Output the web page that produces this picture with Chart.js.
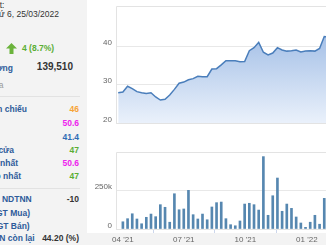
<!DOCTYPE html>
<html><head><meta charset="utf-8">
<script src="https://cdn.jsdelivr.net/npm/chart.js@4.4.1/dist/chart.umd.min.js"></script>
<style>
html,body{margin:0;padding:0;}
body{width:326px;height:245px;overflow:hidden;position:relative;background:#f3f3f3;font-family:"Liberation Sans",Arial,sans-serif;}
#white{position:absolute;left:87px;top:0;width:239px;height:233px;background:#fff;}
.t{position:absolute;white-space:nowrap;line-height:10px;font-size:8.5px;}
.l{font-weight:bold;color:#2e5b9a;}
.v{font-weight:bold;text-align:right;}
.sep{position:absolute;left:0;width:80px;height:1px;background:#e2e2e2;}
canvas{position:absolute;}
</style></head>
<body>
<div id="white"></div>
<div class="t" style="right:321.5px;top:0px;color:#333">Cập nhật:</div>
<div class="t" style="right:267px;top:9.3px;color:#333">Thứ 6, 25/03/2022</div>
<svg style="position:absolute;left:6px;top:42.5px" width="11" height="11" viewBox="0 0 11 11"><polygon points="5.5,0 11,5.5 7.5,5.5 7.5,11 3.5,11 3.5,5.5 0,5.5" fill="#6bb33c"/></svg>
<div class="t v" style="left:22px;top:43px;color:#5aae34">4 (8.7%)</div>
<div class="t l" style="right:313px;top:62.5px">Khối lượng</div>
<div class="t v" style="right:253px;top:60.8px;font-size:10px;line-height:12px;color:#333">139,510</div>
<div class="t" style="right:322.5px;top:80px;color:#999">Giá đóng cửa</div>
<div class="sep" style="top:96px"></div>
<div class="t l" style="right:299px;top:104.3px">Giá tham chiếu</div>
<div class="t v" style="right:247px;top:104.3px;color:#f7a336">46</div>
<div class="t l" style="right:333px;top:118.3px">Giá trần</div>
<div class="t v" style="right:247px;top:118.3px;color:#ee22ee">50.6</div>
<div class="t l" style="right:333px;top:132px">Giá sàn</div>
<div class="t v" style="right:247px;top:132px;color:#2e6cb5">41.4</div>
<div class="t l" style="right:312px;top:145px">Giá mở cửa</div>
<div class="t v" style="right:247px;top:145px;color:#5aae34">47</div>
<div class="t l" style="right:308px;top:157.7px">Giá cao nhất</div>
<div class="t v" style="right:247px;top:157.7px;color:#ee22ee">50.6</div>
<div class="t l" style="right:305px;top:171px">Giá thấp nhất</div>
<div class="t v" style="right:247px;top:171px;color:#5aae34">47</div>
<div class="sep" style="top:188px"></div>
<div class="t l" style="right:294.3px;top:194.3px">Mua bán ròng NDTNN</div>
<div class="t v" style="right:247px;top:194.3px;color:#333">-10</div>
<div class="t l" style="right:296px;top:207.7px">NN mua (GT Mua)</div>
<div class="t l" style="right:296.3px;top:220.5px">NN bán (GT Bán)</div>
<div class="t l" style="right:291.3px;top:233.3px">Room NĐTNN còn lại</div>
<div class="t v" style="right:247px;top:233.3px;color:#333">44.20 (%)</div>

<canvas id="pc" width="239" height="150" style="left:87px;top:0px"></canvas>
<canvas id="vc" width="239" height="105" style="left:87px;top:140px"></canvas>
<script>
const weeks = ['2021-03-25','2021-04-01','2021-04-08','2021-04-15','2021-04-22','2021-04-29','2021-05-06','2021-05-13','2021-05-20','2021-05-27','2021-06-03','2021-06-10','2021-06-17','2021-06-24','2021-07-01','2021-07-08','2021-07-15','2021-07-22','2021-07-29','2021-08-05','2021-08-12','2021-08-19','2021-08-26','2021-09-02','2021-09-09','2021-09-16','2021-09-23','2021-09-30','2021-10-07','2021-10-14','2021-10-21','2021-10-28','2021-11-04','2021-11-11','2021-11-18','2021-11-25','2021-12-02','2021-12-09','2021-12-16','2021-12-23','2021-12-30','2022-01-06','2022-01-13','2022-01-20','2022-01-27','2022-02-03'];
const price = [27.9,28.1,29.6,29.0,28.2,27.9,27.7,27.9,26.8,26.0,26.2,27.3,28.8,30.4,30.7,31.3,31.6,32.2,32.1,32.1,34.1,34.2,35.2,36.3,36.3,36.3,36.0,36.1,38.9,39.7,41.1,38.5,37.8,38.3,39.7,39.1,38.8,38.9,39.1,38.6,38.8,38.9,38.8,39.5,42.6,42.5];
const volume = [null,47000,67000,99000,65000,34000,76000,97000,80000,158000,141000,44000,229000,125000,130000,251000,93000,65000,97000,60000,143000,171000,175000,67000,28000,21000,52000,162000,167000,158000,123000,470000,89000,216000,331000,115000,162000,134000,78000,39000,11000,44000,89000,31000,199000,null];
const monthTicks = ['2021-04-01','2021-07-01','2021-10-01','2022-01-01'];
const monthLabels = ["04 '21","07 '21","10 '21","01 '22"];
const priceTicks = [20,30,40];
const volumeTicks = [0,250000];
const volumeTickLabels = ['0','250k'];

const FONT = '"Liberation Sans", Arial, sans-serif';
const ORIGIN = Date.parse('2021-04-01T00:00:00Z');
const day = s => (Date.parse(s + 'T00:00:00Z') - ORIGIN) / 86400000;
const X_MIN = -10.3, X_MAX = 303.6;

const frame = {
  id: 'frame',
  afterDatasetsDraw(c) {
    const a = c.chartArea, ctx = c.ctx;
    ctx.save();
    ctx.strokeStyle = '#e3e3e3'; ctx.lineWidth = 1;
    ctx.beginPath();
    ctx.moveTo(a.right + 2, Math.round(a.top) + 0.5);
    ctx.lineTo(Math.round(a.left) + 0.5, Math.round(a.top) + 0.5);
    ctx.lineTo(Math.round(a.left) + 0.5, Math.round(a.bottom) + 0.5);
    ctx.lineTo(a.right + 2, Math.round(a.bottom) + 0.5);
    ctx.stroke();
    ctx.restore();
  }
};

function xAxis(show) {
  return {
    type: 'linear', min: X_MIN, max: X_MAX, offset: false, display: show,
    afterBuildTicks: s => { s.ticks = monthTicks.map(d => ({ value: day(d) })); },
    ticks: { autoSkip: false, maxRotation: 0, font: { size: 8, family: FONT }, color: '#666', padding: 2,
      callback: (v, i) => monthLabels[i] },
    grid: { display: true, drawOnChartArea: false, drawTicks: true, tickLength: 4, color: '#ccd6eb' },
    border: { display: false },
    afterFit: s => { s.height = 16; s.paddingLeft = 0; s.paddingRight = 0; }
  };
}

const pts = (arr) => weeks.map((w, i) => ({ x: day(w), y: arr[i] }));

new Chart(document.getElementById('pc'), {
  type: 'line',
  data: { datasets: [{
    data: pts(price),
    borderColor: '#4a7ebb', borderWidth: 1.5, pointRadius: 0, tension: 0,
    fill: 'start',
    backgroundColor: (ctx) => {
      const ch = ctx.chart, a = ch.chartArea;
      if (!a) return 'rgba(142,176,224,0.5)';
      const g = ch.ctx.createLinearGradient(0, a.top, 0, a.bottom);
      g.addColorStop(0, 'rgb(142,176,224)');
      g.addColorStop(1, 'rgb(234,241,251)');
      return g;
    }
  }]},
  options: {
    responsive: false, animation: false, devicePixelRatio: 1,
    layout: { padding: { top: 6, bottom: 11, left: 0, right: 0 } },
    plugins: { legend: { display: false }, tooltip: { enabled: false } },
    scales: {
      x: xAxis(false),
      y: { min: 20, max: 50.6,
        afterBuildTicks: s => { s.ticks = priceTicks.map(v => ({ value: v })); },
        ticks: { font: { size: 8, family: FONT }, color: '#666', padding: 4, labelOffset: -3.5, callback: v => String(v) },
        grid: { color: '#e8e8e8', drawTicks: false },
        border: { display: false },
        afterFit: s => { s.width = 29; s.paddingTop = 0; s.paddingBottom = 0; }
      }
    }
  },
  plugins: [frame]
});

new Chart(document.getElementById('vc'), {
  type: 'bar',
  data: { datasets: [{
    data: pts(volume),
    backgroundColor: '#5687b0', barThickness: 2, borderWidth: 0
  }]},
  options: {
    responsive: false, animation: false, devicePixelRatio: 1,
    layout: { padding: { top: 12, bottom: 0, left: 0, right: 0 } },
    plugins: { legend: { display: false }, tooltip: { enabled: false } },
    scales: {
      x: xAxis(true),
      y: { min: 0, max: 500000,
        afterBuildTicks: s => { s.ticks = volumeTicks.map(v => ({ value: v })); },
        ticks: { font: { size: 8, family: FONT }, color: '#666', padding: 4, labelOffset: -3.5,
          callback: (v, i) => volumeTickLabels[i] },
        grid: { color: '#e8e8e8', drawTicks: false },
        border: { display: false },
        afterFit: s => { s.width = 29; s.paddingTop = 0; s.paddingBottom = 0; }
      }
    }
  },
  plugins: [frame]
});
</script>
</body></html>
